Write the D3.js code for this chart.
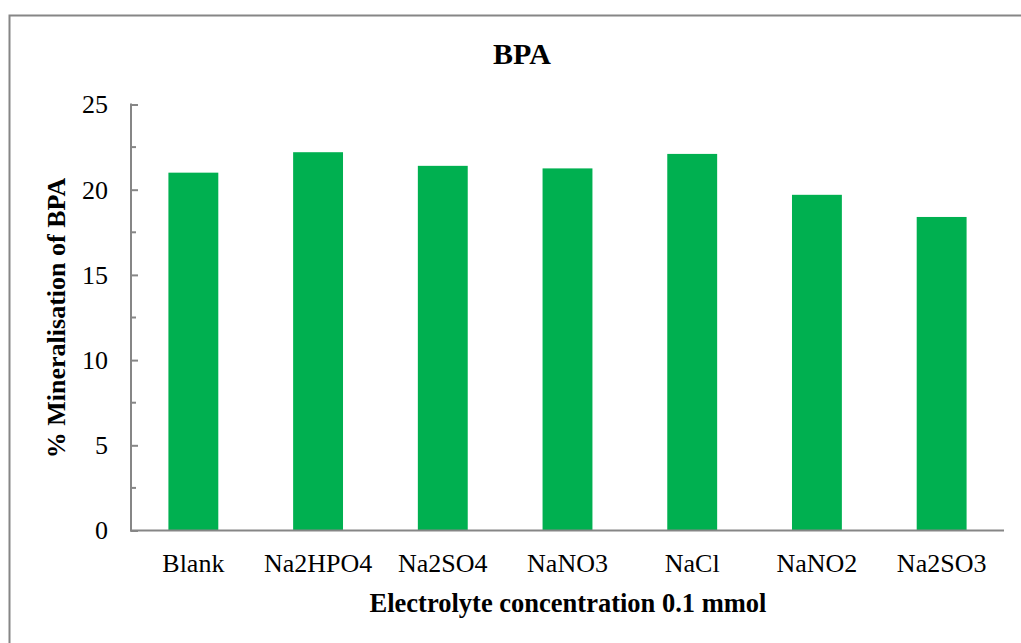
<!DOCTYPE html>
<html>
<head>
<meta charset="utf-8">
<script src="https://cdn.jsdelivr.net/npm/d3@7"></script>
<style>
  body { margin: 0; background: #fff; }
  svg { display: block; font-family: "Liberation Serif", "Times New Roman", serif; }
</style>
</head>
<body>
<svg width="1021" height="643"></svg>
<script>
// data
var categories = ['Blank', 'Na2HPO4', 'Na2SO4', 'NaNO3', 'NaCl', 'NaNO2', 'Na2SO3'];
var values = [21.0, 22.2, 21.4, 21.25, 22.1, 19.7, 18.4];
var yTicks = [0, 5, 10, 15, 20, 25];
var yMinor = [2.5, 7.5, 12.5, 17.5, 22.5];

var k_left = 131, k_right = 1004, k_top = 104.5, k_bottom = 530.5;
var k_axis = '#868686';

var svg = d3.select('svg');

// outer frame (runs off the right and bottom edge)
svg.append('rect')
  .attr('x', 9.5).attr('y', 15.5)
  .attr('width', 1030).attr('height', 660)
  .attr('fill', 'none')
  .attr('stroke', k_axis)
  .attr('stroke-width', 2);

var x = d3.scaleBand()
  .domain(categories)
  .range([k_left, k_right])
  .paddingInner(0.6)
  .paddingOuter(0.3);

var y = d3.scaleLinear()
  .domain([0, 25])
  .range([k_bottom, k_top]);

// bars
svg.append('g')
  .selectAll('rect')
  .data(values)
  .enter()
  .append('rect')
  .attr('x', function(d, i) { return x(categories[i]); })
  .attr('y', function(d) { return y(d); })
  .attr('width', x.bandwidth())
  .attr('height', function(d) { return y(0) - y(d); })
  .attr('fill', '#00b050');

// y axis, ticks pointing inside
var yAxis = svg.append('g')
  .attr('transform', 'translate(' + k_left + ',0)')
  .call(d3.axisRight(y).tickValues(yTicks).tickSize(7).tickFormat(''));
yAxis.select('.domain').remove();
yAxis.selectAll('line').attr('stroke', k_axis).attr('stroke-width', 2);

svg.append('g')
  .selectAll('line')
  .data(yMinor)
  .enter()
  .append('line')
  .attr('x1', k_left).attr('x2', k_left + 5)
  .attr('y1', function(d) { return y(d); })
  .attr('y2', function(d) { return y(d); })
  .attr('stroke', k_axis)
  .attr('stroke-width', 2);

svg.append('line')
  .attr('x1', k_left).attr('x2', k_left)
  .attr('y1', k_top - 1).attr('y2', k_bottom + 1)
  .attr('stroke', k_axis).attr('stroke-width', 2);

svg.append('line')
  .attr('x1', k_left - 1).attr('x2', k_right)
  .attr('y1', k_bottom).attr('y2', k_bottom)
  .attr('stroke', k_axis).attr('stroke-width', 2);

// y tick labels
svg.append('g')
  .selectAll('text')
  .data(yTicks)
  .enter()
  .append('text')
  .attr('x', 108)
  .attr('y', function(d) { return y(d); })
  .attr('dy', '0.34em')
  .attr('text-anchor', 'end')
  .style('font-size', '26px')
  .text(function(d) { return d; });

// category labels
svg.append('g')
  .selectAll('text')
  .data(categories)
  .enter()
  .append('text')
  .attr('x', function(d) { return x(d) + x.bandwidth() / 2; })
  .attr('y', 572)
  .attr('text-anchor', 'middle')
  .style('font-size', '26px')
  .text(function(d) { return d; });

// titles
svg.append('text')
  .attr('x', 522).attr('y', 64)
  .attr('text-anchor', 'middle')
  .style('font-size', '30px').style('font-weight', 'bold')
  .text('BPA');

svg.append('text')
  .attr('x', 568).attr('y', 612)
  .attr('text-anchor', 'middle')
  .style('font-size', '26.5px').style('font-weight', 'bold')
  .text('Electrolyte concentration 0.1 mmol');

svg.append('text')
  .attr('transform', 'translate(65,318) rotate(-90)')
  .attr('text-anchor', 'middle')
  .style('font-size', '26px').style('font-weight', 'bold')
  .text('% Mineralisation of BPA');
</script>
</body>
</html>
